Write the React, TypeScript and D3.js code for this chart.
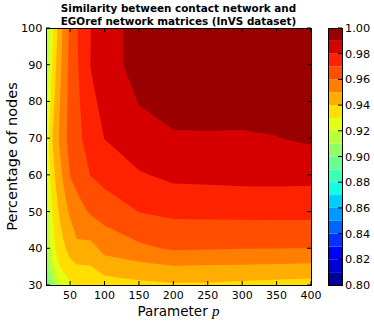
import * as d3 from 'd3';
import React from 'react';

// grid: parameter p (columns) and percentage of nodes (rows)
const pValues = [15, 20, 25, 30, 35, 40, 50, 60, 80, 100, 150, 200, 250, 300, 350, 400];
const pctValues = [30, 35, 40, 50, 60, 70, 80, 90, 100];

// similarity, one row per percentage of nodes, columns follow pValues
const sim30 = [0.893, 0.9, 0.908, 0.914, 0.919, 0.923, 0.928, 0.931, 0.9315, 0.935, 0.9375, 0.9387, 0.9385, 0.9375, 0.9365, 0.9356];
const sim35 = [0.9, 0.91, 0.919, 0.9255, 0.93, 0.9325, 0.9375, 0.939, 0.9395, 0.945, 0.947, 0.9495, 0.949, 0.9488, 0.9483, 0.9478];
const sim40 = [0.908, 0.918, 0.926, 0.9315, 0.9348, 0.9381, 0.9432, 0.948, 0.9468, 0.953, 0.958, 0.9612, 0.9608, 0.9603, 0.9601, 0.96];
const sim50 = [0.912, 0.9231, 0.9306, 0.9369, 0.9418, 0.9454, 0.9516, 0.956, 0.9614, 0.9643, 0.9702, 0.9722, 0.9725, 0.9728, 0.973, 0.973];
const sim60 = [0.916, 0.9277, 0.9367, 0.9426, 0.947, 0.9516, 0.9604, 0.9637, 0.9703, 0.9735, 0.979, 0.9824, 0.9828, 0.9832, 0.9832, 0.983];
const sim70 = [0.918, 0.932, 0.9411, 0.9463, 0.9516, 0.9568, 0.963, 0.9674, 0.9745, 0.9802, 0.9865, 0.989, 0.989, 0.989, 0.9898, 0.9916];
const sim80 = [0.9127, 0.9262, 0.9369, 0.9439, 0.9497, 0.9552, 0.9629, 0.9678, 0.978, 0.9825, 0.9904, 0.9935, 0.994, 0.9935, 0.993, 0.9925];
const sim90 = [0.912, 0.922, 0.933, 0.9406, 0.9472, 0.9533, 0.9626, 0.969, 0.9803, 0.9845, 0.9947, 0.996, 0.9965, 0.997, 0.9972, 0.997];
const sim100 = [0.911, 0.918, 0.9285, 0.9373, 0.9447, 0.9515, 0.9622, 0.9696, 0.98, 0.9843, 0.995, 0.996, 0.997, 0.9975, 0.998, 0.998];

const levels = [0.8, 0.81, 0.82, 0.83, 0.84, 0.85, 0.86, 0.87, 0.88, 0.89, 0.9, 0.91, 0.92, 0.93, 0.94, 0.95, 0.96, 0.97, 0.98, 0.99, 1.0];
const xTicks = [50, 100, 150, 200, 250, 300, 350, 400];
const yTicks = [30, 40, 50, 60, 70, 80, 90, 100];
const cbTicks = [0.8, 0.82, 0.84, 0.86, 0.88, 0.9, 0.92, 0.94, 0.96, 0.98, 1.0];

// matplotlib "jet"
const jetR = d3.scaleLinear().domain([0, 0.35, 0.66, 0.89, 1]).range([0, 0, 1, 1, 0.5]);
const jetG = d3.scaleLinear().domain([0, 0.125, 0.375, 0.64, 0.91, 1]).range([0, 0, 1, 1, 0, 0]);
const jetB = d3.scaleLinear().domain([0, 0.11, 0.34, 0.65, 1]).range([0.5, 1, 1, 0, 0]);
const jet = (t: number) => {
  const q = Math.min(255, Math.floor(t * 256)) / 255;
  return d3.rgb(jetR(q) * 255, jetG(q) * 255, jetB(q) * 255).formatHex();
};

const font = 'DejaVu Sans, sans-serif';

export default function App() {
  const left = 46, right = 311, top = 28, bottom = 285;
  const x = d3.scaleLinear().domain([15, 400]).range([left, right]);
  const y = d3.scaleLinear().domain([30, 100]).range([bottom, top]);
  const norm = d3.scaleLinear().domain([0.8, 1.0]).range([0, 1]);
  const cbY = d3.scaleLinear().domain([0.8, 1.0]).range([bottom, top]);
  const cbLeft = 328, cbRight = 342;

  const grid = [sim30, sim35, sim40, sim50, sim60, sim70, sim80, sim90, sim100];
  const bands = d3
    .contours()
    .size([pValues.length, pctValues.length])
    .thresholds(levels.slice(0, -1))(grid.flat());

  // grid index -> data value (piecewise, grid is not uniform)
  const colIdx = d3.scaleLinear().domain(pValues.map((_, i) => i)).range(pValues).clamp(true);
  const rowIdx = d3.scaleLinear().domain(pctValues.map((_, i) => i)).range(pctValues).clamp(true);
  const proj = d3.geoTransform({
    point(px: number, py: number) {
      this.stream.point(x(colIdx(px - 0.5)), y(rowIdx(py - 0.5)));
    },
  });
  const path = d3.geoPath(proj);
  const bandColor = (i: number) => jet(norm((levels[i] + levels[i + 1]) / 2));

  return (
    <svg width={374} height={323} style={{ position: 'absolute', left: 0, top: 0, background: '#fff' }}>
      <defs>
        <clipPath id="plotClip">
          <rect x={left} y={top} width={right - left} height={bottom - top} />
        </clipPath>
      </defs>
      <g clipPath="url(#plotClip)">
        {bands.map((b, i) => (
          <path key={i} d={path(b) || ''} fill={bandColor(i)} />
        ))}
      </g>
      <rect x={left} y={top} width={right - left} height={bottom - top} fill="none" stroke="#000" strokeWidth={1} shapeRendering="crispEdges" />
      {xTicks.map((t) => (
        <g key={t}>
          <line x1={x(t)} x2={x(t)} y1={bottom} y2={bottom - 4} stroke="#000" />
          <line x1={x(t)} x2={x(t)} y1={top} y2={top + 4} stroke="#000" />
          <text x={x(t)} y={298.5} textAnchor="middle" fontFamily={font} fontSize={11}>{t}</text>
        </g>
      ))}
      {yTicks.map((t) => (
        <g key={t}>
          <line x1={left} x2={left + 4} y1={y(t)} y2={y(t)} stroke="#000" />
          <line x1={right} x2={right - 4} y1={y(t)} y2={y(t)} stroke="#000" />
          <text x={42.5} y={y(t) + 4} textAnchor="end" fontFamily={font} fontSize={11.3}>{t}</text>
        </g>
      ))}
      <text x={(left + right) / 2} y={316} textAnchor="middle" fontFamily={font} fontSize={13.5}>
        Parameter <tspan fontFamily="Liberation Serif, serif" fontStyle="italic" fontSize={15}>p</tspan>
      </text>
      <text transform={`translate(17,${(top + bottom) / 2}) rotate(-90)`} textAnchor="middle" fontFamily={font} fontSize={14.5}>
        Percentage of nodes
      </text>
      <text x={(left + right) / 2} y={12} textAnchor="middle" fontFamily={font} fontWeight="bold" fontSize={10.4}>
        Similarity between contact network and
      </text>
      <text x={(left + right) / 2} y={25} textAnchor="middle" fontFamily={font} fontWeight="bold" fontSize={10.4}>
        EGOref network matrices (InVS dataset)
      </text>
      {levels.slice(0, -1).map((l, i) => (
        <rect key={l} x={cbLeft} y={cbY(levels[i + 1])} width={cbRight - cbLeft} height={cbY(l) - cbY(levels[i + 1])} fill={bandColor(i)} />
      ))}
      <rect x={cbLeft} y={top} width={cbRight - cbLeft} height={bottom - top} fill="none" stroke="#000" shapeRendering="crispEdges" />
      {cbTicks.map((t) => (
        <g key={t}>
          <line x1={cbRight} x2={cbRight - 4} y1={cbY(t)} y2={cbY(t)} stroke="#000" />
          <text x={345} y={cbY(t) + 4} fontFamily={font} fontSize={11.3}>{t.toFixed(2)}</text>
        </g>
      ))}
    </svg>
  );
}
